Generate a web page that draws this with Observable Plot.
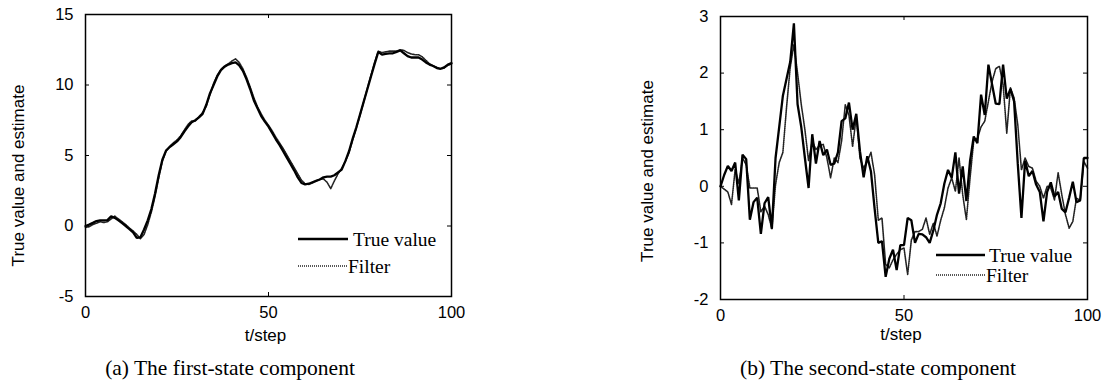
<!DOCTYPE html>
<html>
<head>
<meta charset="utf-8">
<script src="https://cdn.jsdelivr.net/npm/d3@7"></script>
<script src="https://cdn.jsdelivr.net/npm/@observablehq/plot@0.6"></script>
<style>
  html, body { margin: 0; padding: 0; background: #fff; }
  #wrap { position: relative; width: 1106px; height: 385px; overflow: hidden; background: #fff; }
  #wrap > svg, #wrap > figure { position: absolute; margin: 0; }
  .overlay { left: 0; top: 0; pointer-events: none; }
</style>
</head>
<body>
<div id="wrap"></div>
<script>
// ---- data ----
const steps = d3.range(0, 101);
const xTicks = [0, 50, 100];
const yTicksA = [-5, 0, 5, 10, 15];
const yTicksB = [-2, -1, 0, 1, 2, 3];
const seriesNames = ["True value", "Filter"];
const axisLabelX = "t/step";
const axisLabelY = "True value and estimate";
const captions = ["(a) The first-state component", "(b) The second-state component"];

const trueA = [
  0, 0.1, 0.22, 0.35, 0.4, 0.4, 0.42, 0.68, 0.58, 0.4,
  0.2, 0.0, -0.22, -0.45, -0.85, -0.8, -0.25, 0.4, 1.2, 2.3,
  3.6, 4.7, 5.35, 5.6, 5.8, 6.0, 6.3, 6.7, 7.05, 7.35,
  7.5, 7.7, 7.95, 8.6, 9.4, 10.0, 10.6, 11.05, 11.3, 11.45,
  11.55, 11.6, 11.4, 11.0, 10.4, 9.7, 8.9, 8.35, 7.8, 7.4,
  7.05, 6.6, 6.15, 5.75, 5.3, 4.85, 4.4, 3.95, 3.45, 3.05,
  2.95, 3.0, 3.1, 3.2, 3.3, 3.45, 3.5, 3.5, 3.6, 3.8,
  4.0, 4.6, 5.3, 6.2, 7.0, 7.9, 8.8, 9.7, 10.6, 11.5,
  12.35, 12.15, 12.2, 12.25, 12.25, 12.35, 12.45, 12.25, 12.05, 11.95,
  11.95, 11.95, 11.8, 11.6, 11.45, 11.35, 11.2, 11.15, 11.25, 11.45,
  11.55
];
const filterA = [
  -0.1, -0.05, 0.1, 0.2, 0.3, 0.25, 0.3, 0.5, 0.7, 0.5,
  0.3, 0.1, -0.15, -0.35, -0.6, -0.9, -0.6, 0.1, 1.0, 2.1,
  3.4, 4.6, 5.3, 5.65, 5.9, 6.1, 6.4, 6.8, 7.2, 7.45,
  7.45, 7.75, 8.05, 8.5, 9.3, 10.1, 10.7, 11.1, 11.35, 11.5,
  11.7, 11.85, 11.6, 11.15, 10.55, 9.85, 9.1, 8.45, 7.95, 7.5,
  7.15, 6.75, 6.3, 5.9, 5.5, 5.05, 4.6, 4.15, 3.7, 3.25,
  3.0, 2.95, 3.05, 3.2, 3.3, 3.35, 3.1, 2.65, 3.2, 3.7,
  4.1, 4.6, 5.2, 6.1, 6.95, 7.85, 8.8, 9.75, 10.7, 11.6,
  12.4, 12.3, 12.35, 12.4, 12.4, 12.4, 12.5, 12.45, 12.3, 12.2,
  12.15, 12.15, 12.0, 11.75, 11.5, 11.35, 11.25, 11.15, 11.2, 11.4,
  11.5
];
const trueB = [
  0, 0.2, 0.36, 0.27, 0.42, -0.25, 0.56, 0.48, -0.59, -0.28,
  -0.2, -0.84, -0.3, -0.19, -0.75, 0.5, 1.05, 1.6, 1.9, 2.2,
  2.88, 1.45, 1.05, 0.5, -0.03, 0.92, 0.4, 0.8, 0.55, 0.65,
  0.38, 0.4, 0.6, 1.15, 1.2, 1.48, 1.0, 1.28, 0.62, 0.16,
  0.53, 0.26, -0.4, -1.0, -0.97, -1.6, -1.28, -1.12, -1.48, -1.04,
  -1.04, -0.56, -0.6, -1.0, -0.84, -0.85, -0.9, -1.0, -0.78, -0.5,
  -0.3, 0.05, 0.29, 0.15, 0.6, -0.13, 0.35, -0.26, 0.45, 0.88,
  0.76, 1.62, 1.26, 2.15, 1.8, 1.46, 1.45, 2.15, 1.55, 1.72,
  1.5, 0.4, -0.56, 0.45, 0.18, 0.27, 0.03, -0.1, -0.62, -0.1,
  0.07, -0.18, -0.1, -0.4, -0.46, -0.2, 0.08, -0.28, -0.25, 0.5,
  0.5
];
const filterB = [
  0, -0.05, -0.1, -0.32, 0.3, 0.05, 0.5, 0.38, -0.03, -0.03,
  -0.03, -0.45, -0.35, -0.5, -0.75, 0.03, 0.42, 0.6, 1.4, 2.1,
  2.5, 2.0, 1.45, 1.0, 0.45, 0.8, 0.65, 0.72, 0.74, 0.5,
  0.15, 0.5, 0.42, 0.8, 1.44, 1.26, 0.7, 1.24, 0.5, 0.32,
  0.44, 0.6, 0.2, -0.6, -0.56, -1.38, -1.44, -1.3, -1.2, -1.12,
  -1.09, -1.56, -0.95, -0.8, -0.8, -0.76, -0.56, -0.85, -0.65, -0.88,
  -0.6, -0.38, -0.03, 0.15, -0.09, 0.5, -0.15, -0.59, 0.15, 0.8,
  0.85, 1.05, 1.15, 1.5, 1.85, 2.08, 2.12, 1.8, 0.94, 1.74,
  1.56, 1.09, 0.29, 0.5, 0.35, 0.32, 0.09, 0, -0.21, 0,
  -0.03, -0.24, 0.24, -0.15, -0.5, -0.74, -0.62, -0.21, -0.25, 0.44,
  0.32
];

// ---- drawing ----
const sans = "'Liberation Sans', Arial, sans-serif";
const serif = "'Liberation Serif', 'Times New Roman', serif";
const wrap = document.getElementById("wrap");

function rows(values) { return steps.map((t, i) => ({t, v: values[i]})); }

function panel({left, width, height, mL, mR, mT, mB, yDomain, yTicks, tv, fv, ylabDx, ylabDy, xlabDx, xlabDy}) {
  const innerW = width - mL - mR;
  const innerH = height - mT - mB;
  const fmt = d => String(d);
  const svg = Plot.plot({
    width, height,
    marginLeft: mL, marginRight: mR, marginTop: mT, marginBottom: mB,
    style: {fontFamily: sans, fontSize: "16px", background: "transparent", color: "black", overflow: "visible"},
    x: {domain: [0, 100]},
    y: {domain: yDomain},
    marks: [
      Plot.line(rows(fv), {x: "t", y: "v", stroke: "#222", strokeWidth: 1.6, strokeDasharray: "1,1"}),
      Plot.line(rows(tv), {x: "t", y: "v", stroke: "black", strokeWidth: 2.3, strokeLinejoin: "miter"}),
      Plot.frame({stroke: "black", strokeWidth: 1.5}),
      // inward ticks on all four sides
      Plot.tickX(xTicks, {x: d => d, insetTop: innerH - 4, stroke: "black"}),
      Plot.tickX(xTicks, {x: d => d, insetBottom: innerH - 4, stroke: "black"}),
      Plot.tickY(yTicks, {y: d => d, insetRight: innerW - 4, stroke: "black"}),
      Plot.tickY(yTicks, {y: d => d, insetLeft: innerW - 4, stroke: "black"}),
      Plot.axisX(xTicks, {tickSize: 0, tickPadding: 10, tickFormat: fmt, label: null, fontSize: 16.5}),
      Plot.axisY(yTicks, {tickSize: 0, tickPadding: 12, tickFormat: fmt, label: null, fontSize: 16.5}),
      Plot.text([axisLabelY], {text: d => d, frameAnchor: "left", textAnchor: "middle", rotate: -90, dx: ylabDx, dy: ylabDy, fontSize: 17}),
      Plot.text([axisLabelX], {text: d => d, frameAnchor: "bottom", dx: xlabDx, dy: xlabDy, fontSize: 17})
    ]
  });
  svg.style.left = left + "px";
  svg.style.top = "0px";
  wrap.appendChild(svg);
}

panel({left: 0, width: 470, height: 350, mL: 85, mR: 19, mT: 14, mB: 54,
  yDomain: [-5, 15], yTicks: yTicksA, tv: trueA, fv: filterA,
  ylabDx: -67, ylabDy: 20, xlabDx: -3, xlabDy: 44});
panel({left: 640, width: 466, height: 350, mL: 80, mR: 19, mT: 16, mB: 51,
  yDomain: [-2, 3], yTicks: yTicksB, tv: trueB, fv: filterB,
  ylabDx: -73, ylabDy: 13, xlabDx: -3, xlabDy: 40});

// ---- legends and captions (overlay) ----
const ov = d3.create("svg").attr("class", "overlay").attr("width", 1106).attr("height", 385)
  .style("position", "absolute").style("left", "0px").style("top", "0px");
const legends = [
  {x1: 298, x2: 348, y: [239, 266], tx: [353, 348]},
  {x1: 936, x2: 985, y: [255, 275], tx: [989, 986]}
];
legends.forEach(L => {
  seriesNames.forEach((name, i) => {
    ov.append("line").attr("x1", L.x1).attr("x2", L.x2).attr("y1", L.y[i]).attr("y2", L.y[i])
      .attr("stroke", i === 0 ? "black" : "#222").attr("stroke-width", i === 0 ? 2.3 : 1.6)
      .attr("stroke-dasharray", i === 0 ? null : "1,1");
    ov.append("text").attr("x", L.tx[i]).attr("y", L.y[i]).attr("dy", "0.35em")
      .attr("font-family", serif).attr("font-size", 19.5).text(name);
  });
});
[230, 878].forEach((cx, i) => {
  ov.append("text").attr("x", cx).attr("y", 367).attr("dy", "0.35em").attr("text-anchor", "middle")
    .attr("font-family", serif).attr("font-size", 21.5).text(captions[i]);
});
wrap.appendChild(ov.node());
</script>
</body>
</html>
